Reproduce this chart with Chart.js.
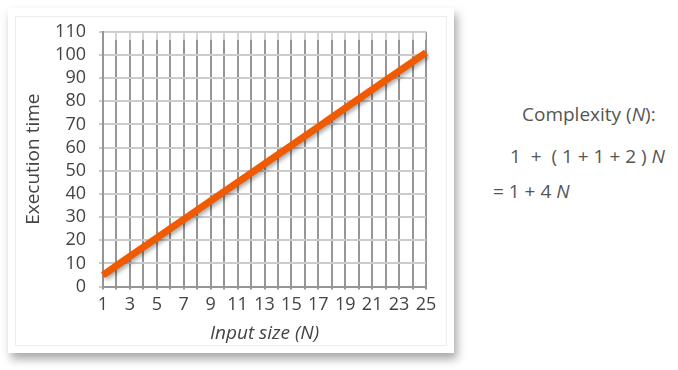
<!DOCTYPE html>
<html>
<head>
<meta charset="utf-8">
<script src="https://cdn.jsdelivr.net/npm/chart.js@4"></script>
<style>
  body { margin: 0; background: #fff; width: 678px; height: 370px; overflow: hidden; font-family: "Open Sans", sans-serif; }
  #card { position: absolute; left: 8px; top: 8px; width: 446px; height: 345px; background: #fff;
          box-shadow: 3px 6px 9px rgba(0,0,0,0.35); }
  #inner { position: absolute; left: 7px; top: 8px; right: 7px; bottom: 7px; border: 1px solid #ececec; }
  #chart { position: absolute; left: 0; top: 0; }
  .note { position: absolute; color: #555; font-size: 19px; white-space: pre; }
  .note i { font-style: italic; }
</style>
</head>
<body>
<div id="card">
  <div id="inner"></div>
  <canvas id="chart" width="446" height="345"></canvas>
</div>
<div class="note" style="left:522px; top:101px;">Complexity (<i>N</i>):</div>
<div class="note" style="left:510px; top:143px;">1  +  ( 1 + 1 + 2 ) <i>N</i></div>
<div class="note" style="left:493px; top:178px;">= 1 + 4 <i>N</i></div>
<script>
// data
const inputSizes = ["1","2","3","4","5","6","7","8","9","10","11","12","13","14","15","16","17","18","19","20","21","22","23","24","25"];
const execTimes = [5, 9, 13, 17, 21, 25, 29, 33, 37, 41, 45, 49, 53, 57, 61, 65, 69, 73, 77, 81, 85, 89, 93, 97, 101];
const yMin = 0, yMax = 110, yStep = 10;

const textColor = "#444";
const font = { family: "'Open Sans', sans-serif", size: 18 };

// top strip of the vertical grid is paler in the original
const fadeTop = {
  id: "fadeTop",
  beforeDatasetsDraw(chart) {
    const { ctx, chartArea, scales } = chart;
    const y0 = scales.y.getPixelForValue(yMax) + 1;
    const y1 = scales.y.getPixelForValue(106.5);
    ctx.save();
    ctx.fillStyle = "rgba(255,255,255,0.6)";
    ctx.fillRect(chartArea.left + 1, y0, chartArea.right - chartArea.left - 1, y1 - y0);
    ctx.restore();
  }
};

// soft shadow under the line
const lineShadow = {
  id: "lineShadow",
  beforeDatasetDraw(chart) {
    const ctx = chart.ctx;
    ctx.save();
    ctx.shadowColor = "rgba(0,0,0,0.35)";
    ctx.shadowBlur = 4;
    ctx.shadowOffsetX = 2;
    ctx.shadowOffsetY = 2;
  },
  afterDatasetDraw(chart) {
    chart.ctx.restore();
  }
};

new Chart(document.getElementById("chart"), {
  type: "line",
  data: {
    labels: inputSizes,
    datasets: [{
      data: execTimes,
      borderColor: "#f05a00",
      borderWidth: 7,
      pointRadius: 0,
      fill: false,
      tension: 0
    }]
  },
  options: {
    responsive: false,
    animation: false,
    layout: { padding: { top: 20, right: 28, bottom: 8, left: 14 } },
    plugins: { legend: { display: false }, tooltip: { enabled: false } },
    scales: {
      x: {
        offset: false,
        grid: { color: "#969696", lineWidth: 2, tickLength: 3 },
        border: { color: "#969696", width: 2 },
        ticks: {
          autoSkip: false,
          maxRotation: 0,
          color: textColor,
          font: font,
          padding: 4,
          callback: function (v, i) { return i % 2 === 0 ? this.getLabelForValue(v) : ""; }
        },
        title: {
          display: true,
          text: "Input size (N)",
          color: textColor,
          font: { family: "'Open Sans', sans-serif", size: 19, style: "italic" },
          padding: { top: 3, bottom: 0 }
        }
      },
      y: {
        min: yMin,
        max: yMax,
        afterFit: (scale) => { scale.width = 81; },
        grid: { color: "#cccccc", lineWidth: 2, tickLength: 4 },
        border: { color: "#969696", width: 2 },
        ticks: { stepSize: yStep, autoSkip: false, color: textColor, font: font, padding: 13 },
        title: {
          display: true,
          text: "Execution time",
          color: textColor,
          font: { family: "'Open Sans', sans-serif", size: 19 },
          padding: { top: 0, bottom: 0 }
        }
      }
    }
  },
  plugins: [fadeTop, lineShadow]
});
</script>
</body>
</html>
